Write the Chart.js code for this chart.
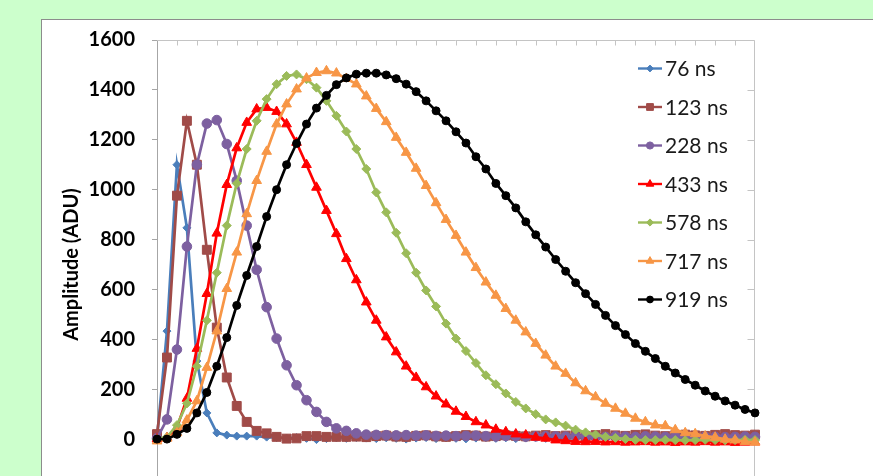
<!DOCTYPE html>
<html><head><meta charset="utf-8">
<script src="https://cdn.jsdelivr.net/npm/chart.js@4.4.1/dist/chart.umd.min.js"></script>
<style>
html,body{margin:0;padding:0;width:873px;height:476px;overflow:hidden;background:#ccffcc;}
#box{position:absolute;left:41px;top:19px;width:1000px;height:1000px;background:#fff;border:1px solid #8c8c8c;}
#wrap{position:absolute;left:0;top:0;width:873px;height:520px;}
</style></head><body>
<div id="box"></div>
<div id="wrap"><canvas id="c"></canvas></div>
<script>
// Sample index (x categories)
const samples = [0,1,2,3,4,5,6,7,8,9,10,11,12,13,14,15,16,17,18,19,20,21,22,23,24,25,26,27,28,29,30,
  31,32,33,34,35,36,37,38,39,40,41,42,43,44,45,46,47,48,49,50,51,52,53,54,55,56,57,58,59,60];
const seriesNames = ['76 ns','123 ns','228 ns','433 ns','578 ns','717 ns','919 ns'];
const yTicksMin = -200, yTicksMax = 1600, yStep = 200;

const s76 = [5,433,1100,847,313,105,25,16,12,12,12,8,6,4,6,3,-2,2,5,3,6,4,2,5,3,0,4,6,2,5,3,1,4,6,3,5,2,4,7,3,5,2,6,4,3,5,7,4,2,6,4,3,5,6,4,7,5,3,6,4,5];
const s123 = [20,327,976,1276,1100,759,447,247,133,69,33,23,9,2,3,12,12,9,9,9,
  10,8,12,14,10,9,13,15,11,9,12,16,14,10,12,15,13,11,14,16,12,
  14,18,12,16,20,15,13,17,19,14,12,16,18,15,13,17,20,16,14,18];
const s228 = [3,79,359,772,1100,1265,1279,1183,1036,856,679,529,403,296,216,156,109,69,43,33,23,
  18,17,16,15,16,14,15,13,14,12,13,14,12,11,13,12,10,11,12,11,
  10,12,11,10,9,11,10,9,11,10,9,10,9,8,10,9,8,9,10,9];
const s433 = [0,5,45,163,363,583,825,1020,1167,1269,1323,1329,1313,1263,1189,1100,1009,916,823,723,638,
  549,476,409,349,292,247,209,172,140,111,90,69,56,39,29,20,16,7,3,-4,
  -7,-10,-11,-10,-12,-11,-13,-12,-11,-13,-12,-14,-12,-13,-11,-13,-12,-14,-13,-12];
const s578 = [0,8,56,143,292,476,667,856,1025,1163,1276,1363,1423,1456,1462,1443,1409,1356,1296,1233,1163,
  1083,989,909,827,745,667,596,532,463,403,353,305,256,220,183,149,123,100,79,67,
  54,38,27,18,9,5,0,-3,-4,-4,-3,-4,-5,-4,-3,-4,-5,-4,-3,-4];
const s717 = [-8,3,25,76,153,287,433,603,749,903,1036,1153,1263,1343,1403,1447,1469,1476,1467,1445,1423,
  1375,1325,1272,1209,1149,1085,1016,947,880,816,749,687,629,576,523,476,429,383,336,292,
  263,225,193,169,143,123,103,83,69,56,53,37,25,21,12,7,-1,-4,-11,-13];
const s919 = [0,0,19,43,105,187,292,407,536,656,772,892,1000,1100,1185,1263,1327,1378,1421,1448,1463,
  1467,1467,1460,1445,1423,1393,1356,1316,1276,1232,1187,1132,1083,1025,976,927,871,819,770,720,
  673,627,583,540,496,455,419,383,352,323,292,265,239,216,193,172,153,136,119,105];
const seriesValues = [s76,s123,s228,s433,s578,s717,s919];

// styles (kept separate from data)
const colors = ['#4a7ebb','#a04b48','#7d60a0','#ff0000','#9bbb59','#f79646','#000000'];
const markers = ['rectRot','rect','circle','triangle','rectRot','triangle','circle'];
const markerRadius = [4,6.3,4.8,5.6,4.5,5.6,4];
const legendRadius = [3.4,4.8,3.6,4.4,3.6,4.4,3.4];

const datasets = seriesNames.map((name,k)=>({
  label:name, data:seriesValues[k],
  borderColor:colors[k], backgroundColor:colors[k],
  pointBackgroundColor:colors[k], pointBorderColor:colors[k],
  pointStyle:markers[k], pointRadius:markerRadius[k], pointBorderWidth:1,
  borderWidth:2.7, tension:0, clip:false, order:6-k
}));

function drawMarker(ctx, style, r, x, y){
  ctx.beginPath();
  if(style==='circle'){ ctx.arc(x,y,r,0,Math.PI*2); }
  else if(style==='rect'){ const s=r*Math.SQRT1_2; ctx.rect(x-s,y-s,2*s,2*s); }
  else if(style==='rectRot'){ ctx.moveTo(x,y-r); ctx.lineTo(x+r,y); ctx.lineTo(x,y+r); ctx.lineTo(x-r,y); ctx.closePath(); }
  else if(style==='triangle'){
    let a=0; ctx.moveTo(x+Math.sin(a)*r, y-Math.cos(a)*r);
    a+=2*Math.PI/3; ctx.lineTo(x+Math.sin(a)*r, y-Math.cos(a)*r);
    a+=2*Math.PI/3; ctx.lineTo(x+Math.sin(a)*r, y-Math.cos(a)*r); ctx.closePath();
  }
  ctx.fill(); ctx.stroke();
}

const framePlugin = {
  id:'frame',
  beforeDatasetsDraw(chart){
    const {ctx, chartArea:a, scales} = chart;
    const x = scales.x, y = scales.y;
    ctx.save();
    ctx.strokeStyle='#c4c4c4'; ctx.lineWidth=1;
    const t = Math.round(a.top)+0.5, r = Math.round(a.right)-0.5;
    ctx.beginPath();
    ctx.moveTo(a.left,t); ctx.lineTo(r,t); ctx.lineTo(r,a.bottom);
    for(let i=2;i<samples.length-1;i+=2){
      const px=Math.round(x.getPixelForValue(i))+0.5;
      ctx.moveTo(px,t); ctx.lineTo(px,t+5);
    }
    y.ticks.forEach(tk=>{
      const py=Math.round(y.getPixelForValue(tk.value))+0.5;
      ctx.moveTo(r-7,py); ctx.lineTo(r,py);
    });
    ctx.stroke();
    ctx.restore();
  }
};

const legendPlugin = {
  id:'seriesLegend',
  afterDraw(chart){
    const ctx=chart.ctx, a=chart.chartArea;
    const x0=a.right-117, y0=a.top+28.5, step=38.5;
    chart.data.datasets.forEach((ds,k)=>{
      const yy=y0+k*step;
      ctx.save();
      ctx.strokeStyle=colors[k]; ctx.lineWidth=2.4;
      ctx.beginPath(); ctx.moveTo(x0,yy); ctx.lineTo(x0+24,yy); ctx.stroke();
      ctx.fillStyle=colors[k]; ctx.lineWidth=1;
      drawMarker(ctx, markers[k], legendRadius[k], x0+12, yy);
      ctx.font='21px Lato'; ctx.fillStyle='#1a1a1a';
      ctx.textBaseline='middle'; ctx.textAlign='left';
      ctx.fillText(ds.label, x0+27, yy+1);
      ctx.restore();
    });
  }
};

new Chart(document.getElementById('c'),{
  type:'line',
  data:{labels:samples, datasets},
  options:{
    responsive:true, maintainAspectRatio:false, animation:false,
    layout:{padding:{left:50, top:40, right:118, bottom:31}},
    plugins:{legend:{display:false}, tooltip:{enabled:false}},
    scales:{
      x:{type:'category', display:false, offset:false},
      y:{min:yTicksMin, max:yTicksMax,
        ticks:{stepSize:yStep, color:'#000', padding:17, font:{family:'Lato', size:20, weight:'bold'},
          callback:(v)=>String(v)},
        grid:{drawOnChartArea:false, drawTicks:true, tickLength:5, color:'#a6a6a6'},
        border:{color:'#a6a6a6', width:1},
        title:{display:true, text:'Amplitude (ADU)', color:'#000', font:{family:'Lato', size:20, weight:'bold'}, padding:{top:10,bottom:0}},
        afterFit(s){ s.width=107; }
      }
    }
  },
  plugins:[framePlugin, legendPlugin]
});
</script>
</body></html>
